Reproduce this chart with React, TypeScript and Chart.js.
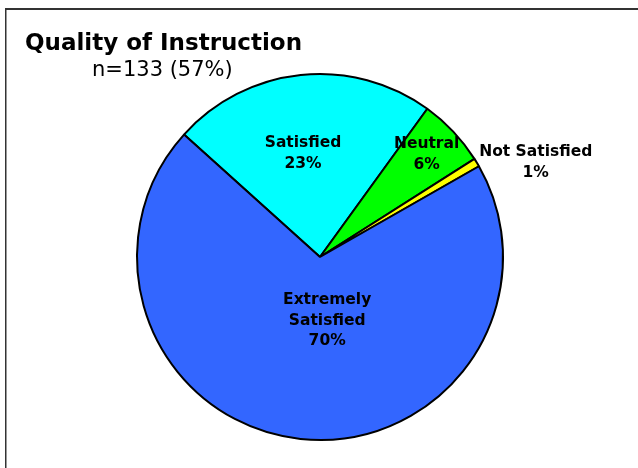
import React, { useEffect, useRef } from "react";
import { Chart, registerables } from "chart.js";

Chart.register(...registerables);

const categories = ["Satisfied", "Neutral", "Not Satisfied", "Extremely Satisfied"];
const labelLines = [["Satisfied"], ["Neutral"], ["Not Satisfied"], ["Extremely", "Satisfied"]];
const counts = [31, 8, 1, 93];
const colors = ["#00FFFF", "#00FF00", "#FFFF00", "#3366FF"];
const titleText = "Quality of Instruction";
const subtitleText = "n=133 (57%)";

// label placement styling: radial factor, x offset, y offset
const labelRadial = [0.568, 0.8, 1.0, 0.35];
const labelDx = [-6, 0, 59, 14];
const labelDy = [0, -2, 0, 0];

const FONT = "'DejaVu Sans', Verdana, sans-serif";

const decorPlugin = {
  id: "decor",
  beforeDraw(chart: any) {
    const ctx = chart.ctx;
    ctx.save();
    ctx.fillStyle = "#fff";
    ctx.fillRect(0, 0, chart.width, chart.height);
    ctx.fillStyle = "#333";
    ctx.fillRect(5, 8, chart.width - 5, 2);
    ctx.fillRect(5, 8, 1.5, chart.height - 8);
    ctx.restore();
  },
  afterDraw(chart: any) {
    const ctx = chart.ctx;
    ctx.save();
    ctx.fillStyle = "#000";
    ctx.textBaseline = "alphabetic";
    ctx.textAlign = "left";
    ctx.font = `bold 23px ${FONT}`;
    ctx.fillText(titleText, 25, 50);
    ctx.font = `21px ${FONT}`;
    ctx.fillText(subtitleText, 92, 76);

    const meta = chart.getDatasetMeta(0);
    const total = counts.reduce((a, b) => a + b, 0);
    ctx.font = `bold 15.5px ${FONT}`;
    ctx.textAlign = "center";
    ctx.textBaseline = "middle";
    meta.data.forEach((arc: any, i: number) => {
      const p = arc.getProps(["x", "y", "startAngle", "endAngle", "outerRadius"], true);
      const mid = (p.startAngle + p.endAngle) / 2;
      const r = p.outerRadius * labelRadial[i];
      const cx = p.x + Math.cos(mid) * r + labelDx[i];
      const cy = p.y + Math.sin(mid) * r + labelDy[i];
      const lines = [...labelLines[i], Math.round((counts[i] / total) * 100) + "%"];
      const lh = 20.5;
      const y0 = cy - ((lines.length - 1) * lh) / 2;
      lines.forEach((t, k) => ctx.fillText(t, cx, y0 + k * lh));
    });
    ctx.restore();
  },
};

export default function App() {
  const ref = useRef<HTMLCanvasElement>(null);
  useEffect(() => {
    const chart = new Chart(ref.current!, {
      type: "pie",
      data: {
        labels: categories,
        datasets: [
          {
            data: counts,
            backgroundColor: colors,
            borderColor: "#000",
            borderWidth: 2,
            hoverOffset: 0,
            radius: 183,
          } as any,
        ],
      },
      options: {
        animation: false,
        responsive: false,
        rotation: -48,
        layout: { padding: { left: 137, right: 135, top: 74, bottom: 28 } },
        plugins: {
          legend: { display: false },
          tooltip: { enabled: false },
          title: { display: false },
        },
      },
      plugins: [decorPlugin],
    });
    return () => chart.destroy();
  }, []);
  return (
    <div style={{ position: "fixed", left: 0, top: 0, width: 638, height: 468, background: "#fff" }}>
      <canvas ref={ref} width={638} height={468} style={{ display: "block" }} />
    </div>
  );
}
